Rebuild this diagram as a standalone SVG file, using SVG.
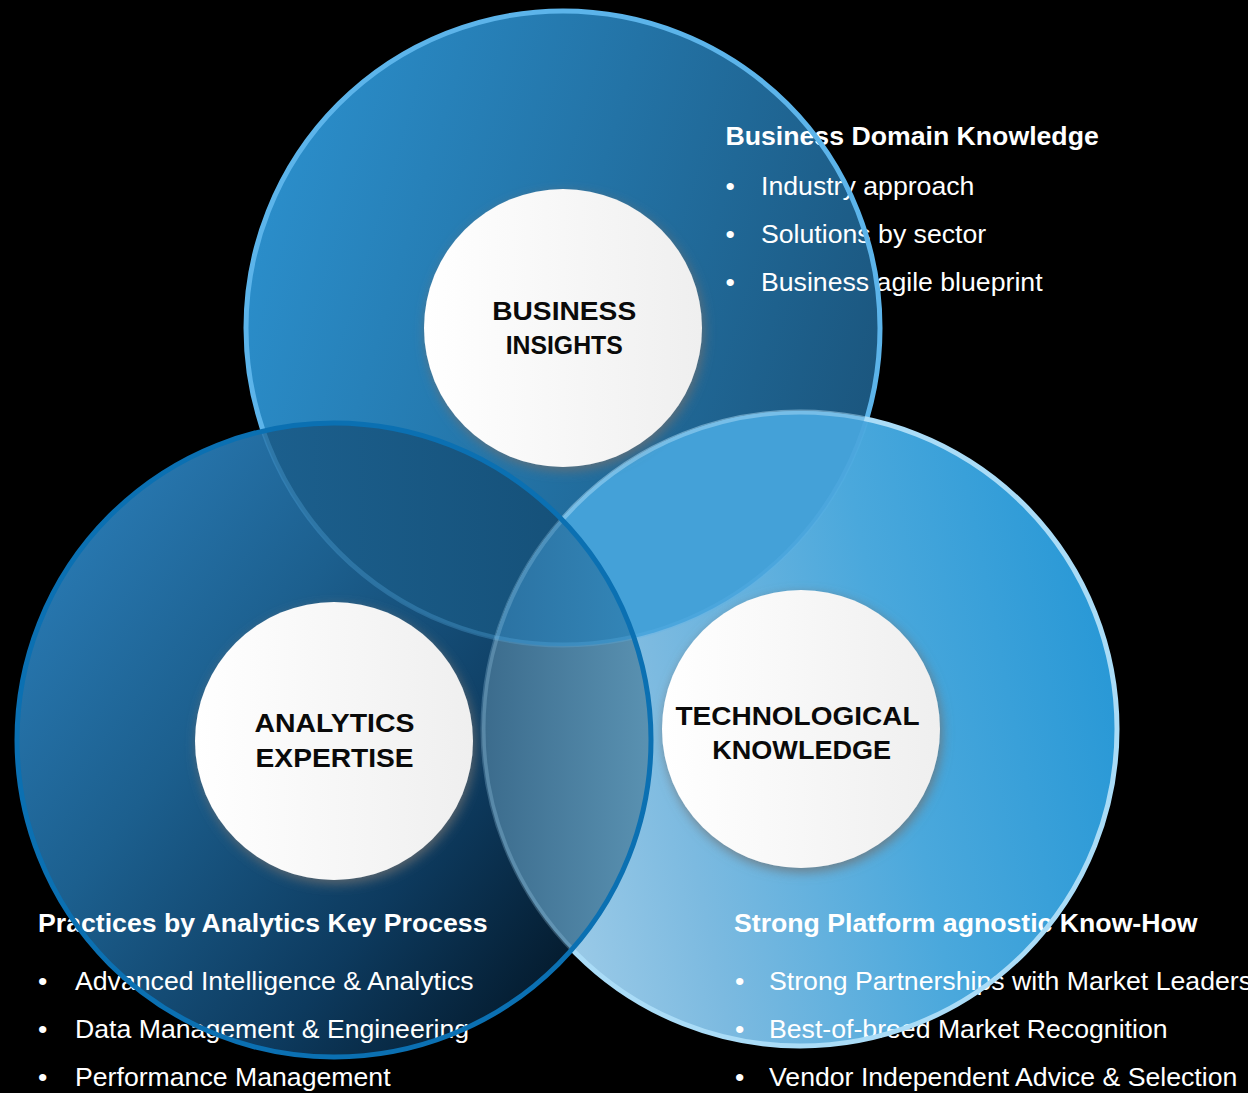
<svg xmlns="http://www.w3.org/2000/svg" width="1248" height="1093" viewBox="0 0 1248 1093">
<style>
.lbl{font-family:"Liberation Sans",Arial,sans-serif;font-weight:bold;font-size:26px;fill:#0a0a0a;text-anchor:middle}
.hd{font-family:"Liberation Sans",Arial,sans-serif;font-weight:bold;font-size:26.67px;fill:#ffffff}
.tx{font-family:"Liberation Sans",Arial,sans-serif;font-size:26.67px;fill:#ffffff}
.inner{fill:url(#gW);filter:url(#sh)}
</style>
<defs>
<linearGradient id="gT" x1="0" y1="0.3" x2="1" y2="0.6">
<stop offset="0" stop-color="#2b8fcc"/><stop offset="0.5" stop-color="#2373a6"/><stop offset="1" stop-color="#1b567e"/>
</linearGradient>
<linearGradient id="gL" x1="0" y1="0.2" x2="0.9" y2="0.9">
<stop offset="0" stop-color="#2a7cb6"/><stop offset="0.35" stop-color="#1c5f8e"/><stop offset="0.7" stop-color="#0d3a5e"/><stop offset="1" stop-color="#031626"/>
</linearGradient>
<linearGradient id="gR" x1="0" y1="0.6" x2="1" y2="0.4">
<stop offset="0" stop-color="#a6d0ea"/><stop offset="0.3" stop-color="#7cbae0"/><stop offset="0.65" stop-color="#4aa8dc"/><stop offset="1" stop-color="#2898d6"/>
</linearGradient>
<linearGradient id="gTL" x1="0" y1="0" x2="1" y2="0">
<stop offset="0.3" stop-color="#1d6291"/><stop offset="0.9" stop-color="#155078"/>
</linearGradient>
<linearGradient id="gLR" x1="0" y1="0" x2="1" y2="0">
<stop offset="0.73" stop-color="#3b6b8c"/><stop offset="1" stop-color="#5a92b2"/>
</linearGradient>
<linearGradient id="gTLR" x1="0" y1="0" x2="1" y2="0">
<stop offset="0.73" stop-color="#2a70a0"/><stop offset="1" stop-color="#3488ba"/>
</linearGradient>
<linearGradient id="gW" x1="0" y1="0" x2="1" y2="0">
<stop offset="0" stop-color="#ffffff"/><stop offset="1" stop-color="#efefef"/>
</linearGradient>
<clipPath id="cT"><circle cx="563" cy="328" r="318"/></clipPath>
<clipPath id="cR"><circle cx="800" cy="729" r="318"/></clipPath>
<filter id="sh" x="-20%" y="-20%" width="140%" height="140%">
<feDropShadow dx="2" dy="4" stdDeviation="6" flood-color="#707070" flood-opacity="0.8"/>
</filter>
<mask id="mT" maskUnits="userSpaceOnUse" x="0" y="0" width="1248" height="1093">
<rect width="1248" height="1093" fill="#ffffff"/>
<circle cx="800" cy="729" r="315" fill="#4a4a4a"/>
<circle cx="334" cy="740" r="315" fill="#4a4a4a"/>
</mask>
<mask id="mR" maskUnits="userSpaceOnUse" x="0" y="0" width="1248" height="1093">
<rect width="1248" height="1093" fill="#ffffff"/>
<circle cx="563" cy="328" r="315" fill="#808080"/>
<circle cx="334" cy="740" r="315" fill="#404040"/>
</mask>
</defs>
<rect width="1248" height="1093" fill="#000000"/>

<g id="circle-business-fill"><circle cx="563" cy="328" r="318" fill="url(#gT)"/></g>
<g id="circle-technology-fill"><circle cx="800" cy="729" r="318" fill="url(#gR)"/></g>
<g id="circle-analytics-fill"><circle cx="334" cy="740" r="318" fill="url(#gL)"/></g>

<g id="overlaps">
<g clip-path="url(#cT)"><circle cx="334" cy="740" r="318" fill="url(#gTL)"/></g>
<g clip-path="url(#cT)"><circle cx="800" cy="729" r="318" fill="#44a1d8"/></g>
<g clip-path="url(#cR)"><circle cx="334" cy="740" r="318" fill="url(#gLR)"/></g>
<g clip-path="url(#cT)"><g clip-path="url(#cR)"><circle cx="334" cy="740" r="318" fill="url(#gTLR)"/></g></g>
</g>

<g id="node-business-insights">
<circle class="inner" cx="563" cy="328" r="139"/>
<text class="lbl" x="564.2" y="319.5" textLength="144" lengthAdjust="spacingAndGlyphs">BUSINESS</text>
<text class="lbl" x="564.2" y="353.5" textLength="117" lengthAdjust="spacingAndGlyphs">INSIGHTS</text>
</g>
<g id="node-analytics-expertise">
<circle class="inner" cx="334" cy="741" r="139"/>
<text class="lbl" x="334.4" y="732.3" textLength="160" lengthAdjust="spacingAndGlyphs">ANALYTICS</text>
<text class="lbl" x="334.6" y="767" textLength="158" lengthAdjust="spacingAndGlyphs">EXPERTISE</text>
</g>
<g id="node-technological-knowledge">
<circle class="inner" cx="801" cy="729" r="139"/>
<text class="lbl" x="797.5" y="724.5" textLength="244" lengthAdjust="spacingAndGlyphs">TECHNOLOGICAL</text>
<text class="lbl" x="801.7" y="758.5" textLength="179" lengthAdjust="spacingAndGlyphs">KNOWLEDGE</text>
</g>

<g id="text-business-domain">
<text class="hd" x="725.5" y="145">Business Domain Knowledge</text>
<text class="tx" x="725.5" y="195">•</text><text class="tx" x="761" y="195">Industry approach</text>
<text class="tx" x="725.5" y="243">•</text><text class="tx" x="761" y="243">Solutions by sector</text>
<text class="tx" x="725.5" y="291">•</text><text class="tx" x="761" y="291">Business agile blueprint</text>
</g>
<g id="text-analytics-process">
<text class="hd" x="38" y="932">Practices by Analytics Key Process</text>
<text class="tx" x="38" y="990">•</text><text class="tx" x="75" y="990">Advanced Intelligence &amp; Analytics</text>
<text class="tx" x="38" y="1038">•</text><text class="tx" x="75" y="1038">Data Management &amp; Engineering</text>
<text class="tx" x="38" y="1086">•</text><text class="tx" x="75" y="1086">Performance Management</text>
</g>
<g id="text-platform-knowhow">
<text class="hd" x="734" y="932">Strong Platform agnostic Know-How</text>
<text class="tx" x="735" y="990">•</text><text class="tx" x="769" y="990">Strong Partnerships with Market Leaders</text>
<text class="tx" x="735" y="1038">•</text><text class="tx" x="769" y="1038">Best-of-breed Market Recognition</text>
<text class="tx" x="735" y="1086">•</text><text class="tx" x="769" y="1086">Vendor Independent Advice &amp; Selection</text>
</g>

<g id="circle-outlines" fill="none" stroke-width="5">
<circle cx="563" cy="328" r="317" stroke="#5cb4ea" mask="url(#mT)"/>
<circle cx="800" cy="729" r="317" stroke="#aadcf7" mask="url(#mR)"/>
<circle cx="334" cy="740" r="317" stroke="#0b70b2"/>
</g>
</svg>
